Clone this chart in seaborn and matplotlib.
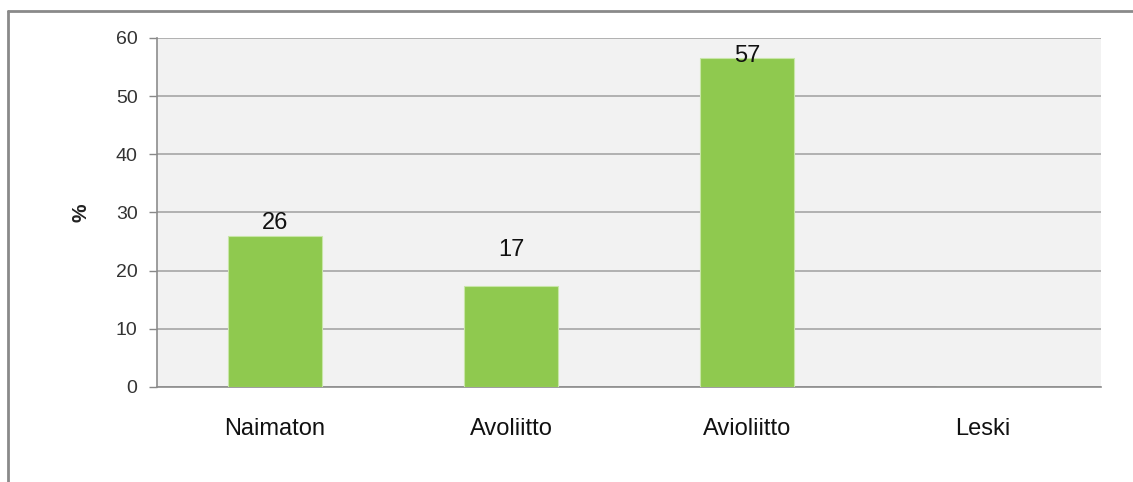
import matplotlib
matplotlib.use("Agg")
import matplotlib.pyplot as plt
import seaborn as sns
import pandas as pd
from matplotlib.lines import Line2D

categories = ["Naimaton", "Avoliitto", "Avioliitto", "Leski"]
values = [26.0, 17.4, 56.5, 0.0]
value_labels = ["26", "17", "57", ""]
yticks = [0, 10, 20, 30, 40, 50, 60]

df = pd.DataFrame({"cat": categories, "val": values})

sns.set_theme(style="white")
plt.rcParams["font.family"] = ["Liberation Sans", "DejaVu Sans"]

fig = plt.figure(figsize=(11.33, 4.82), dpi=100)
ax = fig.add_axes([0.1386, 0.1971, 0.9718 - 0.1386, 0.9212 - 0.1971])
ax.set_facecolor("#f2f2f2")

sns.barplot(data=df, x="cat", y="val", color="#8fc94f", saturation=1,
            width=0.4, edgecolor="#c8e6a8", linewidth=0.8, ax=ax, zorder=3)

ax.set_ylim(0, 60)
ax.set_xlim(-0.5, len(categories) - 0.5)
ax.set_yticks(yticks)
ax.set_yticklabels([str(t) for t in yticks], fontsize=14, color="#333333")
ax.yaxis.grid(True, color="#a6a6a6", linewidth=1.2, zorder=0)
ax.set_axisbelow(True)

# category labels centered, ticks at category boundaries
ax.set_xticks(range(len(categories)))
ax.set_xticklabels(categories, fontsize=17, color="#111111")
ax.tick_params(axis="x", which="major", length=0, pad=22)
ax.set_xticks([i + 0.5 for i in range(-1, len(categories))], minor=True)
ax.tick_params(axis="x", which="minor", length=6, color="#888888", width=1, direction="out")
ax.tick_params(axis="y", length=6, color="#888888", width=1, direction="out", pad=8, left=True)

ax.set_xlabel("")
ax.set_ylabel("%", fontsize=15, fontweight="bold", color="#222222", labelpad=18)

for s in ["top", "right"]:
    ax.spines[s].set_visible(False)
for s in ["left", "bottom"]:
    ax.spines[s].set_color("#8c8c8c")
    ax.spines[s].set_linewidth(1.2)

offsets = [1, 18, -6, 0]
for i, (v, lab) in enumerate(zip(values, value_labels)):
    if lab:
        ax.annotate(lab, (i, v), xytext=(0, offsets[i]), textcoords="offset points",
                    ha="center", va="bottom", fontsize=17, color="#111111", zorder=5)

# outer frame (left and top edges visible)
fig.add_artist(Line2D([8 / 1133, 8 / 1133], [0, 1 - 11 / 482], transform=fig.transFigure,
                      color="#8a8a8a", linewidth=2))
fig.add_artist(Line2D([8 / 1133, 1], [1 - 11 / 482, 1 - 11 / 482], transform=fig.transFigure,
                      color="#8a8a8a", linewidth=2))

fig.savefig("out.png", dpi=100, facecolor="white")
